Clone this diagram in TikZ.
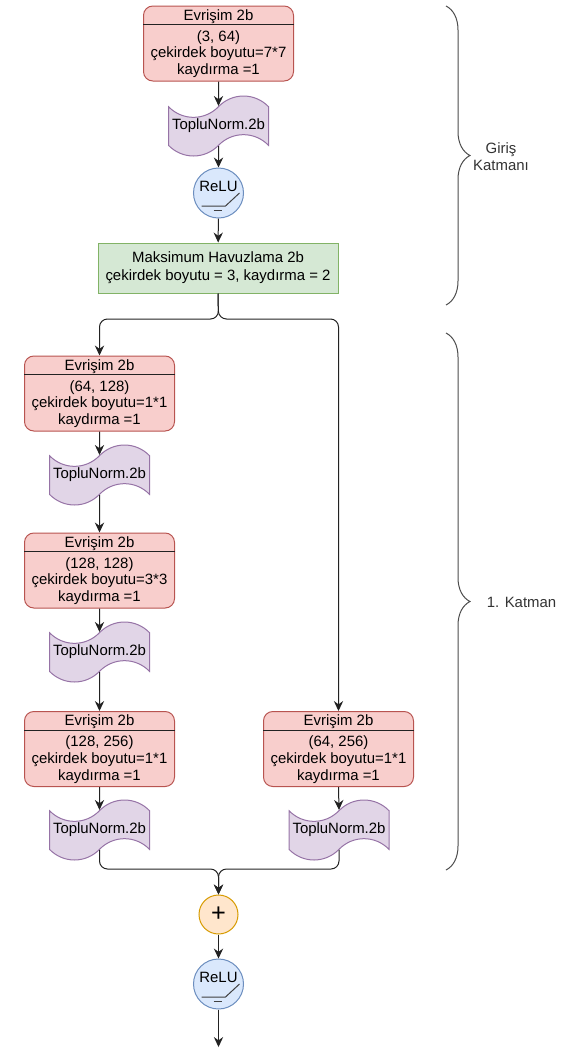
\documentclass[tikz,border=0pt]{standalone}
\usepackage{fontspec}
\setmainfont{Liberation Sans}
\usetikzlibrary{arrows.meta,shapes.symbols,decorations.pathreplacing,calc}

\definecolor{convfill}{HTML}{F8CECC}
\definecolor{convline}{HTML}{B85450}
\definecolor{tnfill}{HTML}{E1D5E7}
\definecolor{tnline}{HTML}{9673A6}
\definecolor{relufill}{HTML}{DAE8FC}
\definecolor{reluline}{HTML}{6C8EBF}
\definecolor{poolfill}{HTML}{D5E8D4}
\definecolor{poolline}{HTML}{82B366}
\definecolor{addfill}{HTML}{FFE6CC}
\definecolor{addline}{HTML}{D79B00}
\definecolor{edge}{HTML}{222222}

\begin{document}
\begin{tikzpicture}[x=0.75pt,y=-0.75pt,line width=0.75pt,
   font=\fontsize{11.2}{12.5}\selectfont,
   conv/.style={draw=convline,fill=convfill,rounded corners=7pt,align=center,
      minimum width=150*0.75pt,minimum height=75*0.75pt,inner sep=0pt},
   tnorm/.style={tape,draw=tnline,fill=tnfill,tape bend top=in and out,
      tape bend bottom=in and out,tape bend height=16pt,
      minimum width=100*0.75pt,minimum height=60*0.75pt,inner sep=0pt},
   relu/.style={circle,draw=reluline,fill=relufill,minimum size=50*0.75pt,inner sep=0pt},
   pool/.style={draw=poolline,fill=poolfill,align=center,
      minimum width=240*0.75pt,minimum height=50*0.75pt,inner sep=0pt,
      font=\fontsize{11.2}{13.5}\selectfont},
   add/.style={circle,draw=addline,fill=addfill,minimum size=39*0.75pt,inner sep=0pt,
      font=\fontsize{19}{19}\selectfont},
   arr/.style={draw=edge,-{Stealth[length=7.5pt,width=7pt,inset=2.5pt]}},
   hdr/.style={draw=edge},
   glyph/.style={draw=black!75},
   brc/.style={draw=black!70,decorate,decoration={brace,amplitude=18pt}},
   side/.style={text=black!80,align=center}]

\useasboundingbox (0,0) rectangle (564,1050);

% Column positions (pixels)
\def\xl{99.5}
\def\xm{218.5}
\def\xr{338.5}
% Header line offset below box top
\def\hd{19}

% Input layer
\node[conv] (c1) at (\xm,43.5) {Evrişim 2b\\[3.4pt](3, 64)\\çekirdek boyutu=7*7\\kaydırma =1};
\node[tnorm] (t1) at (\xm,126) {TopluNorm.2b};
\node[relu] (r1) at (\xm,193) {};
\node[pool] (mp) at (218,268) {Maksimum Havuzlama 2b\\çekirdek boyutu = 3, kaydırma = 2};

% Layer 1, main path
\node[conv] (c2) at (\xl,393.5) {Evrişim 2b\\[3.4pt](64, 128)\\çekirdek boyutu=1*1\\kaydırma =1};
\node[tnorm] (t2) at (\xl,475) {TopluNorm.2b};
\node[conv] (c3) at (\xl,570.5) {Evrişim 2b\\[3.4pt](128, 128)\\çekirdek boyutu=3*3\\kaydırma =1};
\node[tnorm] (t3) at (\xl,652) {TopluNorm.2b};
\node[conv] (c4) at (\xl,749) {Evrişim 2b\\[3.4pt](128, 256)\\çekirdek boyutu=1*1\\kaydırma =1};
\node[tnorm] (t4) at (\xl,830) {TopluNorm.2b};

% Layer 1, shortcut
\node[conv] (c5) at (\xr,749) {Evrişim 2b\\[3.4pt](64, 256)\\çekirdek boyutu=1*1\\kaydırma =1};
\node[tnorm] (t5) at (339,830) {TopluNorm.2b};

% Sum and output
\node[add] (pl) at (\xm,914.5) {+};
\node[relu] (r2) at (\xm,984) {};

% Header lines of the conv boxes
\foreach \c in {c1,c2,c3,c4,c5}{
   \draw[hdr] ($(\c.north west)+(0,\hd)$) -- ($(\c.north east)+(0,\hd)$);
}

% ReLU labels and curves
\foreach \r in {r1,r2}{
   \node (\r t) at ($(\r)+(0,-6.5)$) {ReLU};
   \draw[glyph] ($(\r)+(-17,13)$) -- ($(\r)+(7,13)$) -- ($(\r)+(21,0)$);
   \draw[glyph] ($(\r)+(-5,17)$) -- ($(\r)+(3,17)$);
}

% Connectors
\coordinate (split) at (\xm,319);
\coordinate (join) at (\xm,869);
\coordinate (out) at (\xm,1047);

\draw[arr] (c1) -- (t1);
\draw[arr] (t1) -- (r1);
\draw[arr] (r1) -- (mp);
\draw[arr,rounded corners=6pt] (mp.south) -- (split) -| (c2.north);
\draw[arr,rounded corners=6pt] (mp.south) -- (split) -| (c5.north);
\draw[arr] (c2) -- (t2);
\draw[arr] (t2) -- (c3);
\draw[arr] (c3) -- (t3);
\draw[arr] (t3) -- (c4);
\draw[arr] (c4) -- (t4);
\draw[arr] (c5.south) -- (t5.north);
\draw[arr,rounded corners=6pt] (t4.south) |- (join) -- (pl.north);
\draw[arr,rounded corners=6pt] (t5.south) |- (join) -- (pl.north);
\draw[arr] (pl) -- (r2);
\draw[arr] (r2) -- (out);

% Braces
\draw[brc] (446,6) -- (446,305);
\node[side] (lb1) at (501,156.5) {Giriş\\Katmanı};
\draw[brc] (446,333) -- (446,870);
\node[side] (lb2) at (521.5,602) {1. Katman};

\end{tikzpicture}
\end{document}
